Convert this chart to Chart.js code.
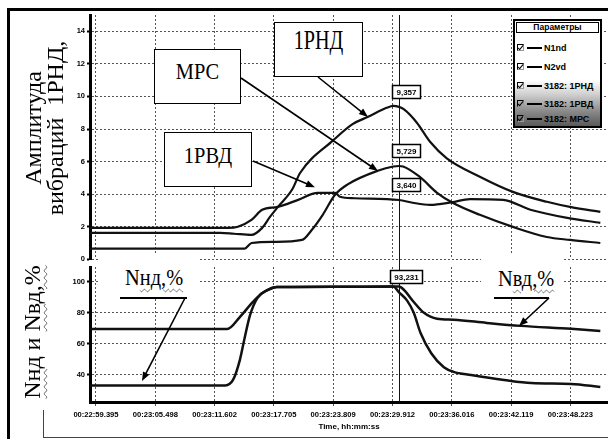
<!DOCTYPE html>
<html lang="ru">
<head>
<meta charset="utf-8">
<title>Амплитуда вибраций 1РНД</title>
<script src="https://cdn.jsdelivr.net/npm/chart.js@4.4.1/dist/chart.umd.min.js"></script>
<style>
    html, body { margin: 0; padding: 0; background: #fff; }
    #page { position: relative; width: 608px; height: 439px; overflow: hidden; background: #fff; }
    #page canvas { position: absolute; left: 0; }
    #topChart { top: 0; z-index: 1; }
    #botChart { top: 256px; z-index: 2; }
    .frame { position: absolute; left: 7px; top: 8px; right: 0; bottom: 0; border-left: 3px solid #000; border-top: 3px solid #000; z-index: 6; }
    .corner { position: absolute; left: 43px; top: 410px; right: 0; height: 27px; border-left: 1px solid #444; border-bottom: 1px solid #444; z-index: 6; }
    .serif { font-family: "Liberation Serif", "DejaVu Serif", serif; color: #000; }
    .ytitle { position: absolute; z-index: 4; font-size: 24px; line-height: 22px; text-align: center; white-space: pre; transform: rotate(-90deg); }
    .wavy { text-decoration: underline wavy #666; text-decoration-thickness: 1px; text-underline-offset: 3px; }
    .note { position: absolute; z-index: 4; box-sizing: border-box; background: #fff; border: 1.5px solid #000; }
    .note span { position: absolute; left: 0; right: 0; text-align: center; white-space: nowrap; font-size: 24px; line-height: 24px; transform: scaleX(0.85); }
    .cover { position: absolute; z-index: 3; background: #fff; }
    .label { position: absolute; z-index: 4; font-size: 24px; line-height: 24px; white-space: nowrap; transform: scaleX(0.85); transform-origin: left top; }
    .rule { position: absolute; z-index: 4; height: 1.5px; background: #000; }
    #legend { position: absolute; z-index: 5; left: 513px; top: 19px; width: 89px; height: 109px; box-sizing: border-box;
              border: 2px solid #000;
              background: linear-gradient(#fff 0%, #fff 56%, #cfcfcf 70%, #8a8a8a 86%, #5a5a5a 100%);
              font-family: "Liberation Sans", Arial, sans-serif; font-weight: bold; color: #000; }
    #legend .head { position: absolute; left: 1px; right: 1px; top: 1px; height: 11px; box-sizing: border-box; border: 1px solid #000;
                    font-size: 8.5px; line-height: 9px; text-align: center; }
    #legend .row { position: absolute; left: 0; height: 14px; line-height: 14px; font-size: 9px; white-space: nowrap; }
    #legend .chk { position: absolute; left: 2px; top: 3px; width: 7px; height: 7px; box-sizing: border-box; border: 1px solid #000; border-right-color: #999; border-bottom-color: #999; }
    #legend .chk::after { content: ""; position: absolute; left: 1px; top: -1px; width: 2px; height: 5px; border: solid #000; border-width: 0 1.5px 1.5px 0; transform: rotate(40deg); }
    #legend .sw { position: absolute; left: 12px; top: 6px; width: 15px; height: 2px; background: #000; }
    #legend .txt { position: absolute; left: 29px; top: 0; }
</style>
</head>
<body>
<div id="page">
    <canvas id="topChart" width="608" height="270"></canvas>
    <canvas id="botChart" width="608" height="183"></canvas>

    <div class="ytitle serif" style="left:-56px;top:106px;width:200px;height:44px">Амплитуда
вибраций  1РНД,</div>
    <div class="ytitle serif" style="left:-48px;top:321px;width:160px;height:22px"><span class="wavy">Nнд</span> и <span class="wavy">Nвд,%</span></div>

    <div class="note serif" style="left:154px;top:49px;width:87px;height:55px"><span style="top:9px">МРС</span></div>
    <div class="note serif" style="left:274px;top:22px;width:89px;height:55px"><span style="top:3px;font-size:28px;line-height:28px;transform:scaleX(0.72)">1РНД</span></div>
    <div class="note serif" style="left:164px;top:132px;width:88px;height:55px"><span style="top:10px">1РВД</span></div>

    <div class="cover" style="left:100px;top:254px;width:98px;height:43px"></div>
    <div class="label serif" style="left:125px;top:265px">N<span class="wavy">нд,%</span></div>
    <div class="rule" style="left:120px;top:297px;width:67px"></div>
    <div class="cover" style="left:481px;top:254px;width:81px;height:43px"></div>
    <div class="label serif" style="left:498px;top:266px">N<span class="wavy">вд,%</span></div>
    <div class="rule" style="left:494px;top:297px;width:55px"></div>

    <div id="legend"><div class="head">Параметры</div></div>

    <div class="corner"></div>
    <div class="frame"></div>
</div>

<script>
// ===== 1. Данные =====
// время: секунды от 00:22:00
const tickTimes = [59.395, 65.498, 71.602, 77.705, 83.809, 89.912, 96.016, 102.119, 108.223];
const tickLabels = ['00:22:59.395', '00:23:05.498', '00:23:11.602', '00:23:17.705', '00:23:23.809',
                    '00:23:29.912', '00:23:36.016', '00:23:42.119', '00:23:48.223'];
const ampTicks = [0, 2, 4, 6, 8, 10, 12, 14];
const revTicks = [40, 60, 80, 100];
const seriesNames = ['N1nd', 'N2vd', '3182: 1РНД', '3182: 1РВД', '3182: МРС'];

const X_MIN = 58.78, X_MAX = 112.09;
const CURSOR_T = 90.58;

// 3182: 1РНД
const tRnd = [58.78, 72.2, 73.6, 75.4, 76.5, 77.3, 78.1, 79.6, 80.4, 83.8, 85.8, 87.4, 89.3, 90.0, 90.58, 91.1, 92.4, 93.8, 95.5, 98.9, 102.3, 105.8, 108.3, 111.3];
const vRnd = [1.62, 1.62, 1.57, 1.5, 1.93, 2.6, 3.2, 4.3, 5.3, 7.3, 8.3, 8.75, 9.3, 9.42, 9.357, 9.2, 8.4, 7.2, 6.2, 5.07, 4.14, 3.53, 3.2, 2.91];
// 3182: 1РВД
const tRvd = [58.78, 73.0, 74.0, 75.4, 76.5, 78.1, 80.2, 82.2, 84.0, 84.5, 86.0, 90.58, 92.0, 93.8, 96.0, 97.9, 101.3, 104.1, 107.9, 111.3];
const vRvd = [1.93, 1.93, 2.0, 2.42, 3.04, 3.22, 3.65, 4.08, 4.08, 3.84, 3.75, 3.64, 3.47, 3.34, 3.5, 3.7, 3.65, 3.04, 2.54, 2.24];
// 3182: МРС
const tMrs = [58.78, 74.7, 75.4, 77.8, 80.6, 81.6, 82.7, 84.0, 85.3, 88.4, 90.0, 90.58, 91.0, 92.7, 94.5, 96.1, 98.9, 102.3, 105.8, 108.2, 111.3];
const vMrs = [0.66, 0.66, 1.0, 1.07, 1.19, 1.8, 2.7, 3.96, 4.6, 5.44, 5.7, 5.729, 5.7, 5.07, 4.08, 3.47, 2.73, 1.99, 1.37, 1.19, 1.0];
// N1nd, %
const tN1 = [58.78, 72.7, 73.5, 74.2, 74.7, 75.25, 76.0, 77.0, 78.0, 84.0, 90.0, 90.58, 91.4, 92.1, 92.8, 93.9, 95.2, 96.2, 98.0, 101.4, 104.2, 108.3, 111.3];
const vN1 = [33.3, 33.3, 36.8, 49.6, 64, 78.5, 89.5, 94.6, 96.6, 96.8, 96.9, 93.231, 88, 80, 67, 54, 45, 42, 40, 36.8, 34.8, 34.2, 32.3];
// N2vd, %
const tN2 = [58.78, 72.9, 74.2, 75.55, 76.5, 77.3, 78.0, 84.0, 90.58, 91.1, 92.1, 93.15, 94.5, 96.2, 99.6, 103.1, 108.3, 111.3];
const vN2 = [69.6, 69.6, 77.3, 87, 92.7, 95.3, 96.6, 96.8, 96.9, 94.7, 87, 80, 76.2, 75.6, 73.5, 71.6, 69.7, 68.3];

// стрелки выносок: откуда (пиксели страницы) -> куда (время, значение)
const topArrows = [
    { from: [241, 78], to: [88.42, 5.42] },
    { from: [318, 77], to: [87.39, 8.74] },
    { from: [253, 161], to: [81.93, 4.42] }
];
const botArrows = [
    { from: [185, 298], to: [64.13, 36.1] },
    { from: [549, 298], to: [102.93, 71.5] }
];

const SANS = '"Liberation Sans", Arial, sans-serif';
const pts = (ts, vs) => ts.map((t, i) => ({ x: t, y: vs[i] }));

// ===== 2. Легенда =====
const legend = document.getElementById('legend');
const legendRowY = [27, 46, 65, 83, 98];
seriesNames.forEach((name, i) => {
    const row = document.createElement('div');
    row.className = 'row';
    row.style.top = (legendRowY[i] - 7) + 'px';
    row.innerHTML = `<span class="chk"></span><span class="sw"></span><span class="txt">${name}</span>`;
    legend.appendChild(row);
});

// ===== 3. Отрисовка курсора, подписей и стрелок =====
function drawArrow(ctx, x1, y1, x2, y2) {
    const a = Math.atan2(y2 - y1, x2 - x1), L = 9, W = 3.5;
    const c = Math.cos(a), s = Math.sin(a);
    ctx.save();
    ctx.strokeStyle = '#000';
    ctx.fillStyle = '#000';
    ctx.lineWidth = 1.6;
    ctx.beginPath();
    ctx.moveTo(x1, y1);
    ctx.lineTo(x2 - c * L * 0.7, y2 - s * L * 0.7);
    ctx.stroke();
    ctx.beginPath();
    ctx.moveTo(x2, y2);
    ctx.lineTo(x2 - c * L - s * W, y2 - s * L + c * W);
    ctx.lineTo(x2 - c * L + s * W, y2 - s * L - c * W);
    ctx.closePath();
    ctx.fill();
    ctx.restore();
}

const overlay = {
    id: 'overlay',
    beforeDatasetsDraw(chart, args, opts) {
        const ctx = chart.ctx;
        const x = Math.round(chart.scales.x.getPixelForValue(CURSOR_T)) + 0.5;
        ctx.save();
        ctx.strokeStyle = '#111';
        ctx.lineWidth = 1;
        ctx.beginPath();
        ctx.moveTo(x, opts.top ? chart.chartArea.top : 0);
        ctx.lineTo(x, opts.top ? chart.height : chart.chartArea.bottom);
        ctx.stroke();
        ctx.restore();
    },
    afterDatasetsDraw(chart, args, opts) {
        const ctx = chart.ctx, xs = chart.scales.x, ys = chart.scales.y;
        const offY = chart.canvas.offsetTop;

        (opts.arrows || []).forEach(a => {
            drawArrow(ctx, a.from[0], a.from[1] - offY, xs.getPixelForValue(a.to[0]), ys.getPixelForValue(a.to[1]));
        });

        // значения в точке курсора
        ctx.save();
        ctx.font = 'bold 8px ' + SANS;
        ctx.textAlign = 'center';
        ctx.textBaseline = 'middle';
        chart.data.datasets.forEach(ds => {
            if (!ds.tag) return;
            const p = ds.data.find(d => d.x === CURSOR_T);
            if (!p) return;
            const px = xs.getPixelForValue(p.x), py = ys.getPixelForValue(p.y);
            const txt = p.y.toFixed(3).replace('.', ',');
            const w = Math.round(ctx.measureText(txt).width) + 8, h = 13;
            const left = Math.round(px + 7 - w / 2) + 0.5, top = Math.round(py - 9 - h) + 0.5;
            ctx.fillStyle = '#fff';
            ctx.fillRect(left, top, w, h);
            ctx.strokeStyle = '#000';
            ctx.lineWidth = 1.5;
            ctx.strokeRect(left, top, w, h);
            ctx.fillStyle = '#000';
            ctx.fillText(txt, left + w / 2, top + h / 2 + 0.5);
        });
        ctx.restore();
    }
};

// ===== 4. Оси =====
function xScale(withLabels) {
    return {
        type: 'linear', min: X_MIN, max: X_MAX,
        afterBuildTicks: s => { s.ticks = tickTimes.map(v => ({ value: v })); },
        afterFit: s => { s.height = withLabels ? 37 : 0; },
        border: { display: withLabels, width: 3, color: '#000', dash: [2, 2] },
        grid: { color: '#555', lineWidth: 1, drawTicks: withLabels, tickLength: 6, tickColor: '#555', tickBorderDash: [2, 2] },
        ticks: {
            display: withLabels, autoSkip: false, maxRotation: 0, padding: 2, color: '#000',
            font: { family: SANS, size: 7.6, weight: 'bold' },
            callback: (v, i) => tickLabels[i]
        },
        title: {
            display: withLabels, text: 'Time, hh:mm:ss', color: '#000',
            font: { family: SANS, size: 8, weight: 'bold' },
            padding: { top: 0, bottom: 7 }
        }
    };
}

function yScale(min, max, ticks) {
    return {
        type: 'linear', position: 'left', min, max,
        afterBuildTicks: s => { s.ticks = ticks.map(v => ({ value: v })); },
        afterFit: s => { s.width = 90; },
        border: { display: true, width: 3, color: '#000', dash: [2, 2] },
        grid: { color: '#555', lineWidth: 1, drawTicks: true, tickLength: 3, tickColor: '#000', tickWidth: 2, tickBorderDash: [] },
        ticks: { padding: 2, color: '#000', font: { family: SANS, size: 7.5, weight: 'bold' } }
    };
}

const lineStyle = { borderColor: '#111', borderWidth: 2.2, pointRadius: 0, fill: false, cubicInterpolationMode: 'monotone' };

// ===== 5. Верхний график: вибрации =====
new Chart(document.getElementById('topChart'), {
    type: 'line',
    data: {
        datasets: [
            { label: seriesNames[2], data: pts(tRnd, vRnd), tag: true, ...lineStyle },
            { label: seriesNames[3], data: pts(tRvd, vRvd), tag: true, ...lineStyle },
            { label: seriesNames[4], data: pts(tMrs, vMrs), tag: true, ...lineStyle }
        ]
    },
    options: {
        responsive: false,
        animation: false,
        layout: { padding: { top: 15, bottom: 10.7, left: 0, right: 0 } },
        scales: { x: xScale(false), y: yScale(0, 15, ampTicks) },
        plugins: {
            legend: { display: false },
            tooltip: { enabled: false },
            overlay: { top: true, arrows: topArrows }
        }
    },
    plugins: [overlay]
});

// ===== 6. Нижний график: обороты =====
new Chart(document.getElementById('botChart'), {
    type: 'line',
    data: {
        datasets: [
            { label: seriesNames[0], data: pts(tN1, vN1), tag: true, ...lineStyle, borderWidth: 2.5 },
            { label: seriesNames[1], data: pts(tN2, vN2), ...lineStyle, borderWidth: 2.5 }
        ]
    },
    options: {
        responsive: false,
        animation: false,
        layout: { padding: { top: 11, bottom: 0, left: 0, right: 0 } },
        scales: { x: xScale(true), y: yScale(22.6, 109.5, revTicks) },
        plugins: {
            legend: { display: false },
            tooltip: { enabled: false },
            overlay: { top: false, arrows: botArrows }
        }
    },
    plugins: [overlay]
});
</script>
</body>
</html>
